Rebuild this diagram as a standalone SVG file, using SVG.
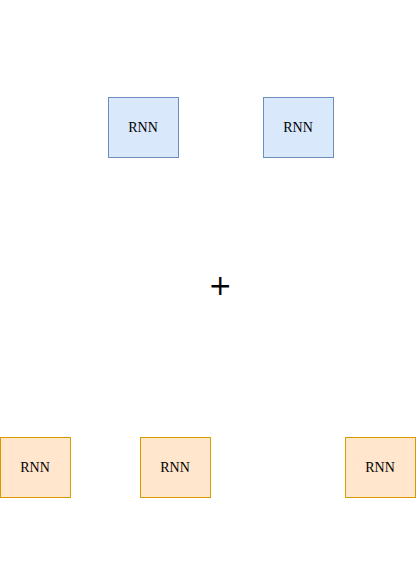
<svg xmlns="http://www.w3.org/2000/svg" width="416" height="578" viewBox="0 0 416 578">
<style>
.b{fill:#dae8fc;stroke:#6c8ebf;stroke-width:1}
.o{fill:#ffe6cc;stroke:#d79b00;stroke-width:1}
.t{font-family:"Liberation Serif",serif;font-size:14px;fill:#000;text-anchor:middle}
</style>
<rect width="416" height="578" fill="#fff"/>
<g id="rnn1"><rect class="b" x="108.5" y="97.5" width="70" height="60"/><text class="t" x="143" y="132.3">RNN</text></g>
<g id="rnn2"><rect class="b" x="263.5" y="97.5" width="70" height="60"/><text class="t" x="298" y="132.3">RNN</text></g>
<g id="plus"><text x="220.3" y="285.6" font-family="DejaVu Sans, sans-serif" font-size="28" text-anchor="middle" dominant-baseline="central">+</text></g>
<g id="rnn3"><rect class="o" x="0.5" y="437.5" width="70" height="60"/><text class="t" x="35" y="472.3">RNN</text></g>
<g id="rnn4"><rect class="o" x="140.5" y="437.5" width="70" height="60"/><text class="t" x="175" y="472.3">RNN</text></g>
<g id="rnn5"><rect class="o" x="345.5" y="437.5" width="70" height="60"/><text class="t" x="380" y="472.3">RNN</text></g>
<g id="connectors"></g>
</svg>
